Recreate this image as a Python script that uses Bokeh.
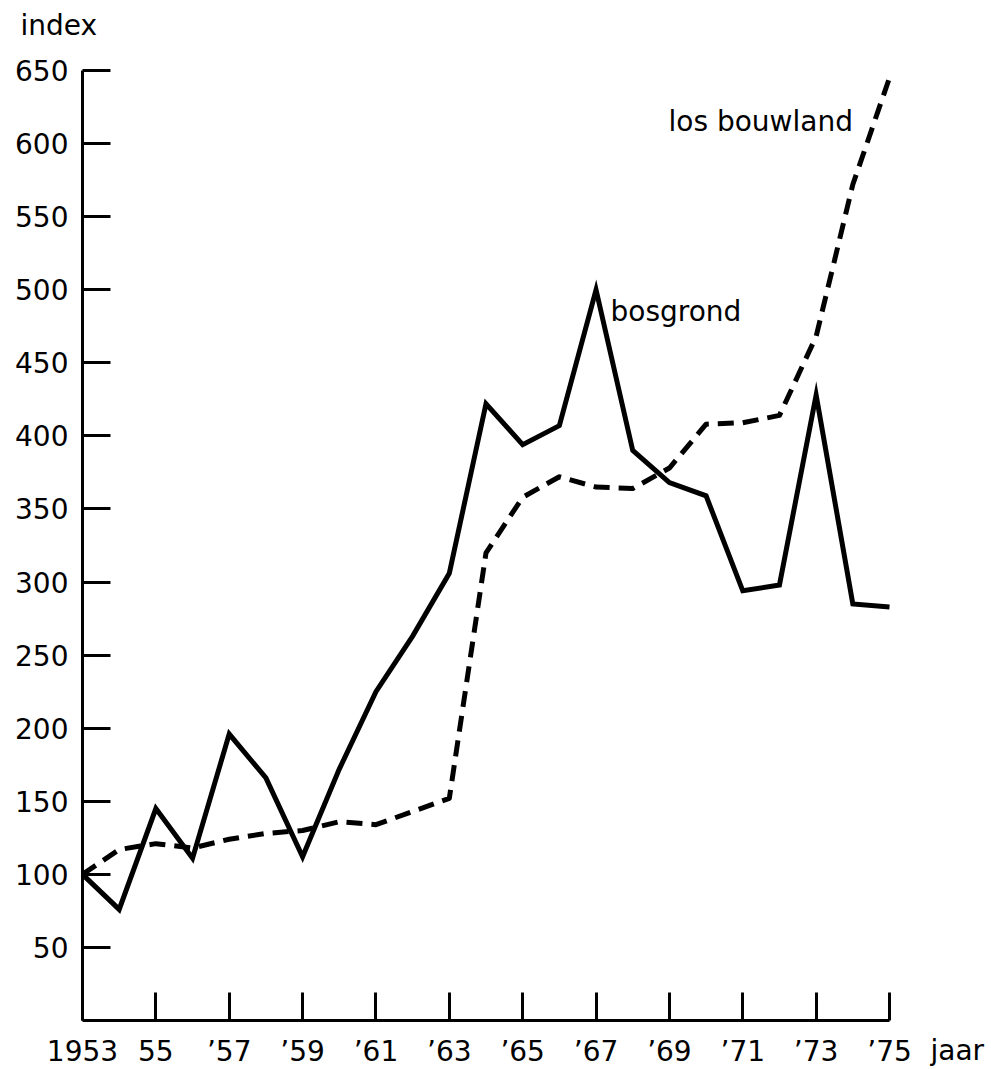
from bokeh.plotting import figure
from bokeh.models import Range1d, FixedTicker, Label
from bokeh.embed import file_html
from bokeh.resources import INLINE

# ---- data -------------------------------------------------------------
years = list(range(1953, 1976))
bosgrond = [100, 76, 145, 111, 196, 166, 112, 172, 225, 263, 306, 422,
            394, 407, 500, 390, 368, 359, 294, 298, 428, 285, 283]
los_bouwland = [100, 117, 121, 118, 124, 128, 130, 136, 134, 143, 152, 320,
                358, 372, 365, 364, 378, 408, 409, 414, 468, 572, 645]

x_ticks = [1953, 1955, 1957, 1959, 1961, 1963, 1965, 1967, 1969, 1971, 1973, 1975]
x_tick_labels = ["1953", "55", "’57", "’59", "’61", "’63", "’65", "’67",
                 "’69", "’71", "’73", "’75"]
y_ticks = [50, 100, 150, 200, 250, 300, 350, 400, 450, 500, 550, 600, 650]

FONT = "DejaVu Sans"
FS = "28px"

# ---- layout (pixel geometry of the drawing area) ----------------------
W, H = 985, 1068
X0_PX, X1_PX = 82, 889      # x position of 1953 and 1975
Y0_PX, Y1_PX = 1020, 70     # y position of 0 and 650
X_MIN, X_MAX = 1953, 1975
Y_MIN, Y_MAX = 0, 650
sx = (X1_PX - X0_PX) / (X_MAX - X_MIN)
sy = (Y0_PX - Y1_PX) / (Y_MAX - Y_MIN)

x_range = Range1d(X_MIN - X0_PX / sx, X_MIN + (W - X0_PX) / sx)
y_range = Range1d(Y_MIN - (H - Y0_PX) / sy, Y_MAX + Y1_PX / sy)

p = figure(width=W, height=H, x_range=x_range, y_range=y_range,
           output_backend="svg", toolbar_location=None, min_border=0)
p.grid.visible = False
p.outline_line_color = None
p.background_fill_color = "white"
p.border_fill_color = "white"

for ax in (p.xaxis[0], p.yaxis[0]):
    ax.axis_line_width = 3
    ax.axis_line_color = "black"
    ax.major_tick_line_width = 3
    ax.major_tick_line_color = "black"
    ax.major_tick_in = 28
    ax.major_tick_out = 0
    ax.minor_tick_line_color = None
    ax.major_label_text_font = FONT
    ax.major_label_text_font_size = FS
    ax.major_label_text_color = "black"

p.xaxis.ticker = FixedTicker(ticks=x_ticks)
p.xaxis.major_label_overrides = dict(zip(x_ticks, x_tick_labels))
p.xaxis.major_label_standoff = 14
p.xaxis.fixed_location = Y_MIN
p.xaxis.bounds = (X_MIN, X_MAX)

p.yaxis.ticker = FixedTicker(ticks=y_ticks)
p.yaxis.major_label_standoff = 14
p.yaxis.fixed_location = X_MIN
p.yaxis.bounds = (Y_MIN, Y_MAX)

# ---- lines ------------------------------------------------------------
p.line(years, bosgrond, line_color="black", line_width=5, line_join="miter")
p.line(years, los_bouwland, line_color="black", line_width=5,
       line_dash="16 9", line_join="round")

# ---- texts (placed by pixel position of left edge / baseline) ---------
def lab(px, py, text):
    p.add_layout(Label(x=X_MIN + (px - X0_PX) / sx, y=Y_MIN + (Y0_PX - py) / sy,
                       text=text, text_font=FONT, text_font_size=FS,
                       text_color="black", text_align="left",
                       text_baseline="alphabetic"))

lab(610, 311, "bosgrond")
lab(668, 121, "los bouwland")
lab(20, 25, "index")
lab(930, 1050, "jaar")

open("out.html", "w").write(file_html(p, INLINE))
